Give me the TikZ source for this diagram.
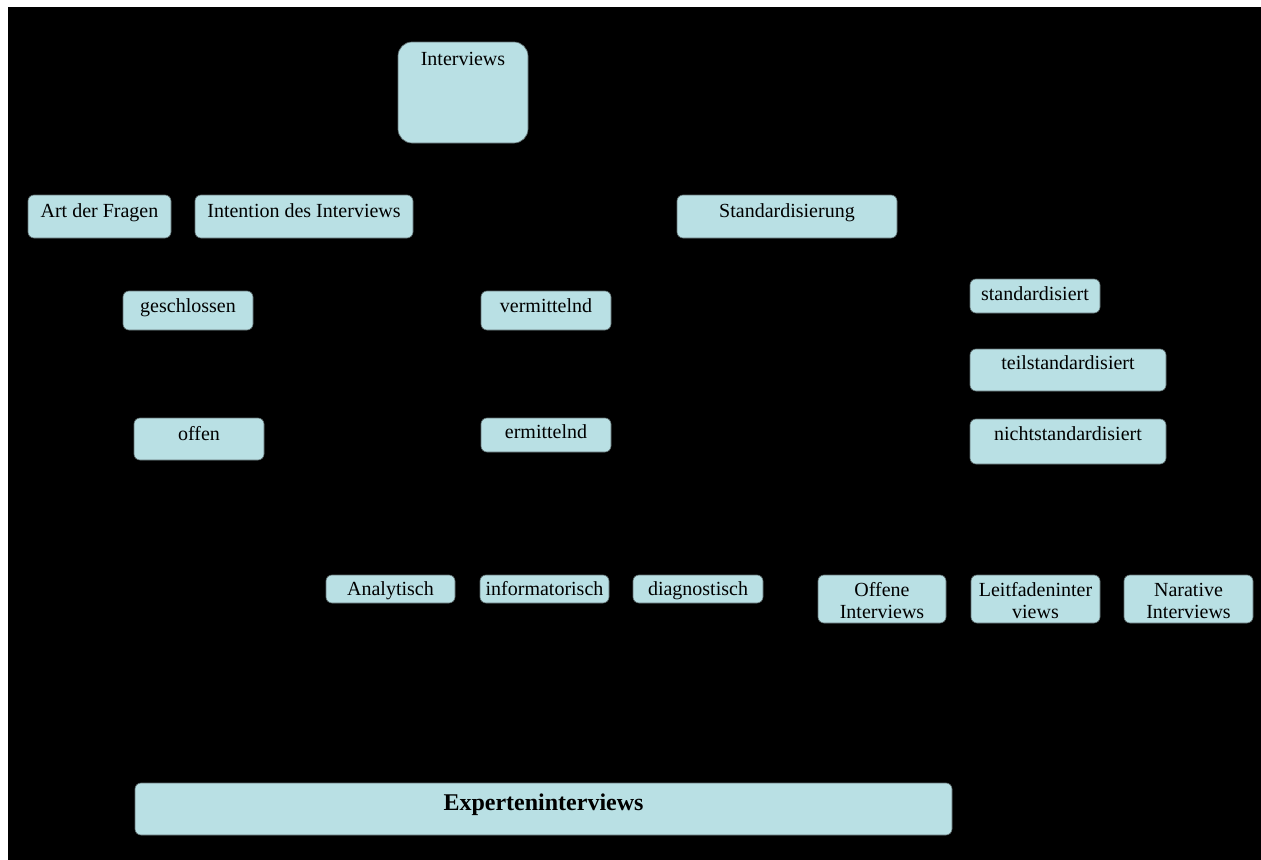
\documentclass[tikz,border=0pt]{standalone}
\usepackage{fontspec}
\setmainfont{Liberation Serif}
\usetikzlibrary{calc}
\definecolor{boxfill}{RGB}{185,224,228}
\definecolor{boxline}{RGB}{95,110,112}
\tikzset{
  box/.style={draw=boxline, line width=0.5pt, fill=boxfill, rounded corners=4.5pt,
    inner sep=0pt, outer sep=0pt},
  bigbox/.style={rounded corners=10.5pt},
  lbl/.style={inner sep=0pt, outer sep=0pt, text=black, align=center,
    font=\fontsize{15pt}{16.5pt}\selectfont},
  boldlbl/.style={font=\fontsize{18pt}{20pt}\selectfont\bfseries}
}
% #1 name, #2 left, #3 top, #4 right, #5 bottom (pixels), #6 text,
% #7 extra box style, #8 last baseline below top edge (pixels), #9 extra text style
\newcommand\pbox[9]{%
  \node[box,#7,minimum width={(#4-#2)*0.75pt},minimum height={(#5-#3)*0.75pt}]
    (#1) at ({(#2+#4)/2},{(#3+#5)/2}) {};
  \node[lbl,#9,anchor=base] (#1-t) at ($(#1.north)+(0,#8)$) {#6};}
\begin{document}
\begin{tikzpicture}[x=0.75pt,y=-0.75pt]
  % page and dark background
  \fill[white] (0,0) rectangle (1261,860);
  \fill[black] (8,7) rectangle (1261,860);
  \useasboundingbox (0,0) rectangle (1261,860);

  % top
  \pbox{interviews}{398}{42}{528}{143}{Interviews}{bigbox}{23}{}

  % second row
  \pbox{art}{28}{195}{171}{238}{Art der Fragen}{}{22}{}
  \pbox{intention}{195}{195}{413}{238}{Intention des Interviews}{}{22}{}
  \pbox{standard}{677}{195}{897}{238}{Standardisierung}{}{22}{}

  % kind of questions
  \pbox{geschlossen}{123}{291}{253}{330}{geschlossen}{}{21}{}
  \pbox{offen}{134}{418}{264}{460}{offen}{}{22}{}

  % intention
  \pbox{vermittelnd}{481}{291}{611}{330}{vermittelnd}{}{21}{}
  \pbox{ermittelnd}{481}{418}{611}{452}{ermittelnd}{}{20}{}

  % degree of standardisation
  \pbox{std}{970}{279}{1100}{313}{standardisiert}{}{21}{}
  \pbox{teilstd}{970}{349}{1166}{391}{teilstandardisiert}{}{20}{}
  \pbox{nichtstd}{970}{419}{1166}{464}{nichtstandardisiert}{}{21}{}

  % interview types
  \pbox{analytisch}{326}{575}{455}{603}{Analytisch}{}{20}{}
  \pbox{informatorisch}{480}{575}{609}{603}{informatorisch}{}{20}{}
  \pbox{diagnostisch}{633}{575}{763}{603}{diagnostisch}{}{20}{}
  \pbox{offeneint}{818}{575}{946}{623}{Offene\\Interviews}{}{43}{}
  \pbox{leitfaden}{971}{575}{1100}{623}{Leitfadeninter\\views}{}{43}{}
  \pbox{narrative}{1124}{575}{1253}{623}{Narative\\Interviews}{}{43}{}

  % bottom
  \pbox{experten}{135}{783}{952}{835}{Experteninterviews}{}{27}{boldlbl}
\end{tikzpicture}
\end{document}
